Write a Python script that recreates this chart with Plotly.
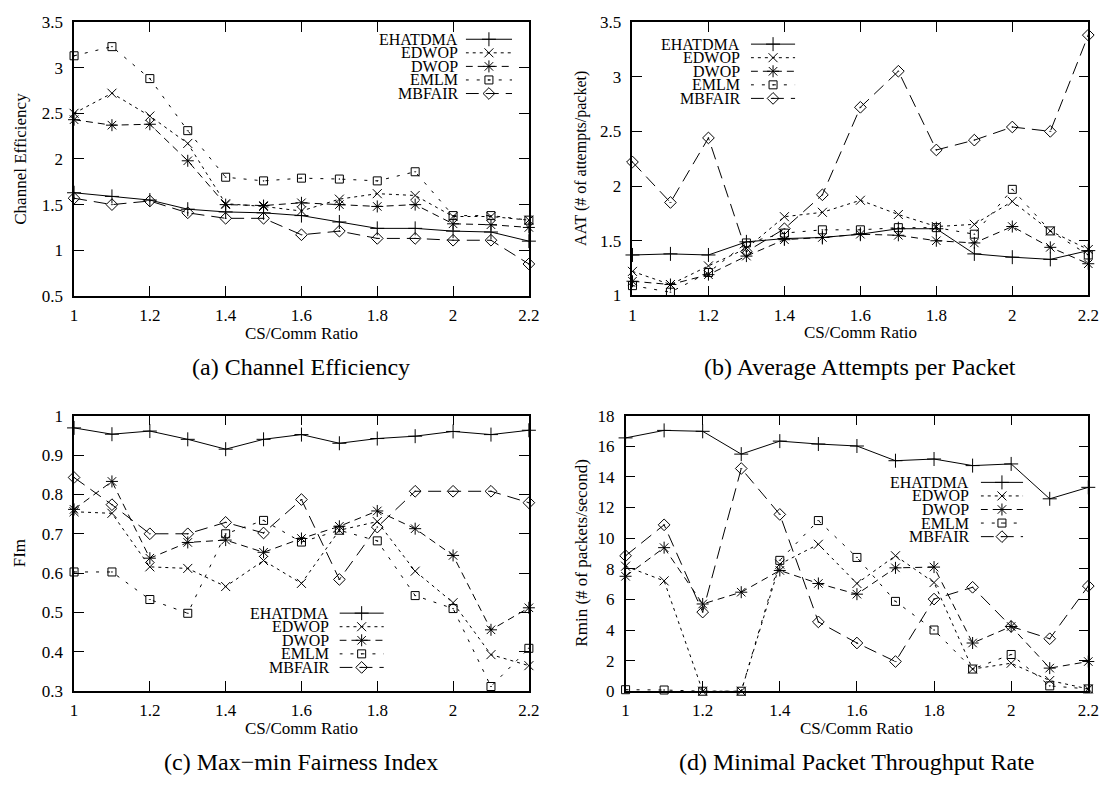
import plotly.graph_objects as go

W, H = 1120, 792
FONT = "'Liberation Serif', 'Times New Roman', Times, serif"

# CS/Comm ratio on the horizontal axis of every panel
X = [1.0, 1.1, 1.2, 1.3, 1.4, 1.5, 1.6, 1.7, 1.8, 1.9, 2.0, 2.1, 2.2]
X_TICKS = [1.0, 1.2, 1.4, 1.6, 1.8, 2.0, 2.2]
X_TICK_TEXT = ["1", "1.2", "1.4", "1.6", "1.8", "2", "2.2"]

SERIES = ["EHATDMA", "EDWOP", "DWOP", "EMLM", "MBFAIR"]

# (a) channel efficiency
eff_ehatdma = [1.63, 1.59, 1.55, 1.45, 1.42, 1.41, 1.38, 1.31, 1.24, 1.24, 1.21, 1.20, 1.10]
eff_edwop = [2.50, 2.72, 2.47, 2.17, 1.51, 1.48, 1.43, 1.56, 1.62, 1.60, 1.37, 1.37, 1.33]
eff_dwop = [2.43, 2.37, 2.38, 1.98, 1.50, 1.49, 1.52, 1.50, 1.48, 1.50, 1.29, 1.28, 1.25]
eff_emlm = [3.13, 3.23, 2.88, 2.31, 1.80, 1.76, 1.79, 1.78, 1.76, 1.86, 1.38, 1.38, 1.33]
eff_mbfair = [1.57, 1.50, 1.54, 1.41, 1.35, 1.35, 1.17, 1.21, 1.13, 1.13, 1.11, 1.11, 0.85]

# (b) average attempts per packet
aat_ehatdma = [1.37, 1.38, 1.37, 1.49, 1.52, 1.53, 1.56, 1.61, 1.61, 1.38, 1.35, 1.33, 1.41]
aat_edwop = [1.22, 1.10, 1.27, 1.43, 1.72, 1.76, 1.87, 1.74, 1.63, 1.65, 1.86, 1.59, 1.42]
aat_dwop = [1.13, 1.10, 1.19, 1.36, 1.51, 1.53, 1.56, 1.55, 1.50, 1.48, 1.63, 1.44, 1.29]
aat_emlm = [1.09, 1.03, 1.21, 1.48, 1.57, 1.60, 1.60, 1.62, 1.62, 1.56, 1.97, 1.59, 1.37]
aat_mbfair = [2.22, 1.85, 2.44, 1.40, 1.61, 1.92, 2.72, 3.05, 2.33, 2.42, 2.54, 2.50, 3.38]

# (c) max-min fairness index
fim_ehatdma = [0.969, 0.953, 0.961, 0.940, 0.915, 0.940, 0.952, 0.930, 0.942, 0.948, 0.960, 0.952, 0.963]
fim_edwop = [0.756, 0.752, 0.616, 0.612, 0.566, 0.632, 0.574, 0.709, 0.731, 0.605, 0.525, 0.393, 0.365]
fim_dwop = [0.762, 0.833, 0.638, 0.678, 0.684, 0.653, 0.688, 0.719, 0.758, 0.713, 0.645, 0.456, 0.512]
fim_emlm = [0.603, 0.603, 0.533, 0.498, 0.700, 0.734, 0.679, 0.709, 0.682, 0.543, 0.510, 0.312, 0.409]
fim_mbfair = [0.843, 0.774, 0.700, 0.700, 0.729, 0.702, 0.787, 0.584, 0.717, 0.808, 0.808, 0.808, 0.779]

# (d) minimal packet throughput rate
rmin_ehatdma = [16.55, 17.04, 16.98, 15.49, 16.34, 16.15, 16.02, 15.06, 15.17, 14.74, 14.85, 12.57, 13.32]
rmin_edwop = [8.17, 7.21, 0.0, 0.0, 8.30, 9.60, 7.04, 8.85, 7.10, 1.45, 1.83, 0.70, 0.15]
rmin_dwop = [7.51, 9.38, 5.70, 6.47, 7.89, 7.04, 6.34, 8.06, 8.11, 3.15, 4.23, 1.51, 1.94]
rmin_emlm = [0.10, 0.08, 0.0, 0.0, 8.55, 11.15, 8.74, 5.87, 4.00, 1.45, 2.40, 0.35, 0.15]
rmin_mbfair = [8.85, 10.87, 5.17, 14.55, 11.55, 4.53, 3.15, 1.94, 6.02, 6.79, 4.23, 3.43, 6.87]

# y-axis ticks per panel
EFF_TICKS = [0.5, 1.0, 1.5, 2.0, 2.5, 3.0, 3.5]
EFF_TICK_TEXT = ["0.5", "1", "1.5", "2", "2.5", "3", "3.5"]
AAT_TICKS = [1.0, 1.5, 2.0, 2.5, 3.0, 3.5]
AAT_TICK_TEXT = ["1", "1.5", "2", "2.5", "3", "3.5"]
FIM_TICKS = [0.3, 0.4, 0.5, 0.6, 0.7, 0.8, 0.9, 1.0]
FIM_TICK_TEXT = ["0.3", "0.4", "0.5", "0.6", "0.7", "0.8", "0.9", "1"]
RMIN_TICKS = [0, 2, 4, 6, 8, 10, 12, 14, 16, 18]
RMIN_TICK_TEXT = ["0", "2", "4", "6", "8", "10", "12", "14", "16", "18"]

# line dash and marker symbol for every protocol
STYLE = {
    "EHATDMA": dict(dash="solid", symbol="cross-thin-open", size=10),
    "EDWOP": dict(dash="3px,4px", symbol="x-thin-open", size=9),
    "DWOP": dict(dash="7px,5px", symbol="asterisk-open", size=10),
    "EMLM": dict(dash="3px,8px", symbol="square-open-dot", size=8),
    "MBFAIR": dict(dash="13px,7px", symbol="diamond-open-dot", size=9),
}

# panel layout in pixels: plot box (left, top, right, bottom), legend anchor
PANELS = [
    dict(values=[eff_ehatdma, eff_edwop, eff_dwop, eff_emlm, eff_mbfair],
         yticks=EFF_TICKS, yticktext=EFF_TICK_TEXT, yrange=[0.5, 3.5],
         ylabel="Channel Efficiency", ylabel_x=17, ylabel_size=17,
         caption="(a) Channel Efficiency",
         box=(71, 13.3, 532, 294), legend=(462, 468, 515, 31)),
    dict(values=[aat_ehatdma, aat_edwop, aat_dwop, aat_emlm, aat_mbfair],
         yticks=AAT_TICKS, yticktext=AAT_TICK_TEXT, yrange=[1.0, 3.5],
         ylabel="AAT (# of attempts/packet)", ylabel_x=585, ylabel_size=16,
         caption="(b) Average Attempts per Packet",
         box=(637, 13.3, 1099, 293.5), legend=(748, 757, 802, 36)),
    dict(values=[fim_ehatdma, fim_edwop, fim_dwop, fim_emlm, fim_mbfair],
         yticks=FIM_TICKS, yticktext=FIM_TICK_TEXT, yrange=[0.3, 1.0],
         ylabel="FIm", ylabel_x=16, ylabel_size=17,
         caption="(c) Max\u2212min Fairness Index",
         box=(71, 416.7, 532, 699), legend=(331, 340, 385, 619)),
    dict(values=[rmin_ehatdma, rmin_edwop, rmin_dwop, rmin_emlm, rmin_mbfair],
         yticks=RMIN_TICKS, yticktext=RMIN_TICK_TEXT, yrange=[0, 18],
         ylabel="Rmin (# of packets/second)", ylabel_x=585, ylabel_size=17,
         caption="(d) Minimal Packet Throughput Rate",
         box=(630, 416.7, 1099, 699), legend=(980, 990, 1033, 485)),
]
LEGEND_ROW = 13.9
LEGEND_FONT = 16


def fx(px):
    return px / W


def fy(py):
    return 1 - py / H


def axis_id(n):
    return "" if n == 1 else str(n)


fig = go.Figure()
annotations = []
tick_font = dict(family=FONT, size=17, color="black")

for i, p in enumerate(PANELS):
    n = i + 1
    left, top, right, bottom = p["box"]
    frame = dict(showline=True, linecolor="black", linewidth=1.5, mirror="ticks",
                 ticks="inside", ticklen=10, tickwidth=1, tickcolor="black",
                 showgrid=False, zeroline=False, tickfont=tick_font)
    fig.layout["xaxis" + axis_id(n)] = dict(
        frame, domain=[fx(left), fx(right)], anchor="y" + axis_id(n),
        range=[1.0, 2.2], tickmode="array", tickvals=X_TICKS, ticktext=X_TICK_TEXT,
        ticklabelstandoff=3)
    fig.layout["yaxis" + axis_id(n)] = dict(
        frame, domain=[fy(bottom), fy(top)], anchor="x" + axis_id(n),
        range=p["yrange"], tickmode="array", tickvals=p["yticks"], ticktext=p["yticktext"],
        ticklabelstandoff=6)

    for name, vals in zip(SERIES, p["values"]):
        st = STYLE[name]
        fig.add_trace(go.Scatter(
            x=X, y=vals, mode="lines+markers", name=name, showlegend=False,
            xaxis="x" + axis_id(n), yaxis="y" + axis_id(n), cliponaxis=False,
            line=dict(color="black", width=1, dash=st["dash"]),
            marker=dict(symbol=st["symbol"], size=st["size"], color="black",
                        line=dict(color="black", width=1))))

    # key samples live on a hidden axis pair covering the legend block
    text_right, key_left, key_right, row0 = p["legend"]
    kn = n + 4
    fig.layout["xaxis" + axis_id(kn)] = dict(
        domain=[fx(key_left), fx(key_right)], range=[0, 1], visible=False,
        anchor="y" + axis_id(kn), fixedrange=True)
    fig.layout["yaxis" + axis_id(kn)] = dict(
        domain=[fy(row0 + LEGEND_ROW * 4.5), fy(row0 - LEGEND_ROW * 0.5)],
        range=[4.5, -0.5], visible=False, anchor="x" + axis_id(kn), fixedrange=True)
    for r, name in enumerate(SERIES):
        st = STYLE[name]
        fig.add_trace(go.Scatter(
            x=[0, 1], y=[r, r], mode="lines", showlegend=False, hoverinfo="skip",
            xaxis="x" + axis_id(kn), yaxis="y" + axis_id(kn),
            line=dict(color="black", width=1, dash=st["dash"])))
        fig.add_trace(go.Scatter(
            x=[0.5], y=[r], mode="markers", showlegend=False, hoverinfo="skip",
            xaxis="x" + axis_id(kn), yaxis="y" + axis_id(kn), cliponaxis=False,
            marker=dict(symbol=st["symbol"], size=st["size"], color="black",
                        line=dict(color="black", width=1))))
        annotations.append(dict(
            text=name, x=fx(text_right), y=fy(row0 + LEGEND_ROW * r),
            xref="paper", yref="paper", xanchor="right", yanchor="middle",
            showarrow=False, font=dict(family=FONT, size=LEGEND_FONT, color="black")))

    # axis titles and panel caption
    mid_x = (left + right) / 2
    mid_y = (top + bottom) / 2
    annotations.append(dict(
        text=p["ylabel"], x=fx(p["ylabel_x"]), y=fy(mid_y), textangle=-90,
        xref="paper", yref="paper", xanchor="center", yanchor="middle",
        showarrow=False, font=dict(family=FONT, size=p["ylabel_size"], color="black")))
    annotations.append(dict(
        text="CS/Comm Ratio", x=fx(mid_x), y=fy(bottom + 38),
        xref="paper", yref="paper", xanchor="center", yanchor="middle",
        showarrow=False, font=dict(family=FONT, size=17, color="black")))
    annotations.append(dict(
        text=p["caption"], x=fx(mid_x), y=fy(bottom + 73),
        xref="paper", yref="paper", xanchor="center", yanchor="middle",
        showarrow=False, font=dict(family=FONT, size=24, color="black")))

fig.update_layout(
    width=W, height=H, margin=dict(l=0, r=0, t=0, b=0),
    paper_bgcolor="white", plot_bgcolor="white",
    showlegend=False, annotations=annotations,
    font=dict(family=FONT, color="black"))

fig.write_html("out.html")
